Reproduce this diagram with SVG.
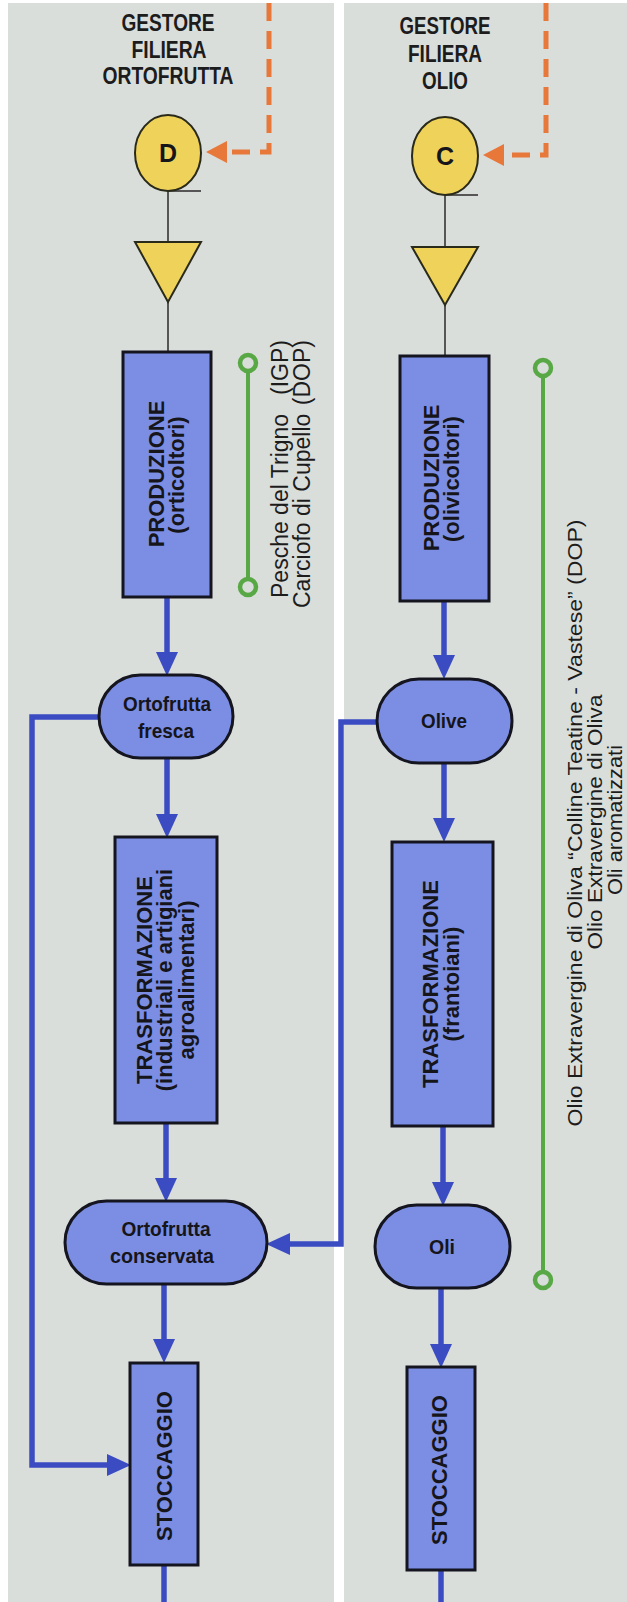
<svg xmlns="http://www.w3.org/2000/svg" width="627" height="1602" viewBox="0 0 627 1602">
<style>
.panel{fill:#dadedb}
.box{fill:#7b8ee4;stroke:#15151f;stroke-width:3}
.pill{fill:#7b8ee4;stroke:#15151f;stroke-width:3}
.yel{fill:#efd25a;stroke:#2a2a1a;stroke-width:2}
.thin{stroke:#2a2a2a;stroke-width:1.5;fill:none}
.flow{stroke:#3b4cc3;stroke-width:5.5;fill:none}
.orange{stroke:#e8773a;stroke-width:5;fill:none;stroke-dasharray:18 10}
.green{stroke:#58a845;stroke-width:4;fill:none}
.ring{fill:#dadedb;stroke:#58a845;stroke-width:4.5}
.title{font-family:"Liberation Sans",Arial,sans-serif;font-weight:bold;font-size:23px;fill:#1c1c1c;text-anchor:middle}
.lbl{font-family:"Liberation Sans",Arial,sans-serif;font-weight:bold;font-size:22px;fill:#15151a;text-anchor:middle}
.pl{font-family:"Liberation Sans",Arial,sans-serif;font-weight:bold;font-size:21px;fill:#15151a;text-anchor:middle}
.reg{font-family:"Liberation Sans",Arial,sans-serif;font-size:23px;fill:#1c1c1c}
.reg2{font-family:"Liberation Sans",Arial,sans-serif;font-size:21px;fill:#1c1c1c;text-anchor:middle}
.st{text-anchor:start}
.en{text-anchor:end}
</style>
<defs>
<marker id="ab" markerUnits="userSpaceOnUse" markerWidth="24" markerHeight="22" refX="1" refY="11" orient="auto">
<path d="M0,0 L24,11 L0,22 z" fill="#3b4cc3"/>
</marker>
<marker id="ao" markerUnits="userSpaceOnUse" markerWidth="22" markerHeight="22" refX="1" refY="11" orient="auto">
<path d="M0,0 L21,11 L0,22 z" fill="#e8773a"/>
</marker>
</defs>
<rect x="0" y="0" width="627" height="1602" fill="#ffffff"/>
<rect class="panel" x="8" y="3" width="326" height="1599"/>
<rect class="panel" x="344" y="3" width="283" height="1599"/>

<g id="connectors">
<path class="orange" d="M269,3 V152 H226" marker-end="url(#ao)"/>
<path class="orange" d="M546,3 V155 H503" marker-end="url(#ao)"/>
<path class="thin" d="M168,191 H201 M168,191 V242 M168,302 V352"/>
<path class="thin" d="M445,195 H478 M445,195 V247 M445,305 V356"/>
<path class="flow" d="M167,597 V653" marker-end="url(#ab)"/>
<path class="flow" d="M167,758 V815" marker-end="url(#ab)"/>
<path class="flow" d="M166,1123 V1179" marker-end="url(#ab)"/>
<path class="flow" d="M164,1284 V1340" marker-end="url(#ab)"/>
<path class="flow" d="M164,1565 V1602"/>
<path class="flow" d="M99,717 H32 V1465 H108" marker-end="url(#ab)"/>
<path class="flow" d="M444,601 V656" marker-end="url(#ab)"/>
<path class="flow" d="M444,763 V819" marker-end="url(#ab)"/>
<path class="flow" d="M443,1126 V1183" marker-end="url(#ab)"/>
<path class="flow" d="M441,1288 V1345" marker-end="url(#ab)"/>
<path class="flow" d="M441,1570 V1602"/>
<path class="flow" d="M377,722 H341 V1244 H289" marker-end="url(#ab)"/>
<path class="green" d="M248,363 V587"/>
<circle class="ring" cx="248" cy="363" r="8"/>
<circle class="ring" cx="248" cy="587" r="8"/>
<path class="green" d="M543,368 V1280"/>
<circle class="ring" cx="543" cy="368" r="8"/>
<circle class="ring" cx="543" cy="1280" r="8"/>
</g>

<g id="title-ortofrutta">
<text class="title" x="168" y="31" textLength="93" lengthAdjust="spacingAndGlyphs">GESTORE</text>
<text class="title" x="169" y="58" textLength="75" lengthAdjust="spacingAndGlyphs">FILIERA</text>
<text class="title" x="168" y="84" textLength="131" lengthAdjust="spacingAndGlyphs">ORTOFRUTTA</text>
</g>
<g id="title-olio">
<text class="title" x="445" y="34" textLength="91" lengthAdjust="spacingAndGlyphs">GESTORE</text>
<text class="title" x="445" y="62" textLength="74" lengthAdjust="spacingAndGlyphs">FILIERA</text>
<text class="title" x="445" y="89" textLength="46" lengthAdjust="spacingAndGlyphs">OLIO</text>
</g>

<g id="node-D">
<ellipse class="yel" cx="168" cy="153" rx="33" ry="38"/>
<text class="lbl" x="168" y="162" style="font-size:25px">D</text>
</g>
<g id="tri-D"><polygon class="yel" points="135,242 201,242 168,302"/></g>
<g id="node-C">
<ellipse class="yel" cx="445" cy="156" rx="33" ry="39"/>
<text class="lbl" x="445" y="165" style="font-size:25px">C</text>
</g>
<g id="tri-C"><polygon class="yel" points="412,247 478,247 445,305"/></g>

<g id="prod-orto">
<rect class="box" x="123" y="352" width="88" height="245"/>
<text class="lbl" x="164" y="474" transform="rotate(-90 164 474)">PRODUZIONE</text>
<text class="lbl" x="184" y="475" transform="rotate(-90 184 475)">(orticoltori)</text>
</g>
<g id="prod-olio">
<rect class="box" x="400" y="356" width="89" height="245"/>
<text class="lbl" x="439" y="478" transform="rotate(-90 439 478)">PRODUZIONE</text>
<text class="lbl" x="459" y="479" transform="rotate(-90 459 479)">(olivicoltori)</text>
</g>

<g id="fresca">
<rect class="pill" x="99" y="675" width="134" height="83" rx="41.5"/>
<text class="pl" x="167" y="711" textLength="88" lengthAdjust="spacingAndGlyphs">Ortofrutta</text>
<text class="pl" x="166" y="738" textLength="56" lengthAdjust="spacingAndGlyphs">fresca</text>
</g>
<g id="olive">
<rect class="pill" x="377" y="679" width="135" height="84" rx="42"/>
<text class="pl" x="444" y="728" textLength="46" lengthAdjust="spacingAndGlyphs">Olive</text>
</g>

<g id="trasf-orto">
<rect class="box" x="115" y="837" width="102" height="286"/>
<text class="lbl" x="152" y="980" transform="rotate(-90 152 980)">TRASFORMAZIONE</text>
<text class="lbl" x="172" y="980" transform="rotate(-90 172 980)">(industriali e artigiani</text>
<text class="lbl" x="194" y="980" transform="rotate(-90 194 980)">agroalimentari)</text>
</g>
<g id="trasf-olio">
<rect class="box" x="392" y="842" width="101" height="284"/>
<text class="lbl" x="438" y="984" transform="rotate(-90 438 984)">TRASFORMAZIONE</text>
<text class="lbl" x="459" y="984" transform="rotate(-90 459 984)">(frantoiani)</text>
</g>

<g id="conservata">
<rect class="pill" x="65" y="1201" width="202" height="83" rx="41.5"/>
<text class="pl" x="166" y="1236" textLength="89" lengthAdjust="spacingAndGlyphs">Ortofrutta</text>
<text class="pl" x="162" y="1263" textLength="104" lengthAdjust="spacingAndGlyphs">conservata</text>
</g>
<g id="oli">
<rect class="pill" x="375" y="1205" width="135" height="83" rx="41.5"/>
<text class="pl" x="442" y="1254" textLength="26" lengthAdjust="spacingAndGlyphs">Oli</text>
</g>

<g id="stocc-orto">
<rect class="box" x="130" y="1363" width="68" height="202"/>
<text class="lbl" x="172" y="1466" transform="rotate(-90 172 1466)">STOCCAGGIO</text>
</g>
<g id="stocc-olio">
<rect class="box" x="407" y="1367" width="68" height="203"/>
<text class="lbl" x="447" y="1470" transform="rotate(-90 447 1470)">STOCCAGGIO</text>
</g>

<g id="prodotti-orto">
<text class="reg st" x="288" y="598" transform="rotate(-90 288 598)">Pesche del Trigno</text>
<text class="reg en" x="288" y="340" transform="rotate(-90 288 340)">(IGP)</text>
<text class="reg st" x="310" y="608" transform="rotate(-90 310 608)">Carciofo di Cupello</text>
<text class="reg en" x="310" y="340" transform="rotate(-90 310 340)">(DOP)</text>
</g>
<g id="prodotti-olio">
<text class="reg2" x="582" y="823" transform="rotate(-90 582 823)" textLength="607" lengthAdjust="spacingAndGlyphs">Olio Extravergine di Oliva “Colline Teatine - Vastese”  (DOP)</text>
<text class="reg2" x="602" y="822" transform="rotate(-90 602 822)" textLength="255" lengthAdjust="spacingAndGlyphs">Olio Extravergine di Oliva</text>
<text class="reg2" x="622" y="820" transform="rotate(-90 622 820)" textLength="150" lengthAdjust="spacingAndGlyphs">Oli aromatizzati</text>
</g>
</svg>
